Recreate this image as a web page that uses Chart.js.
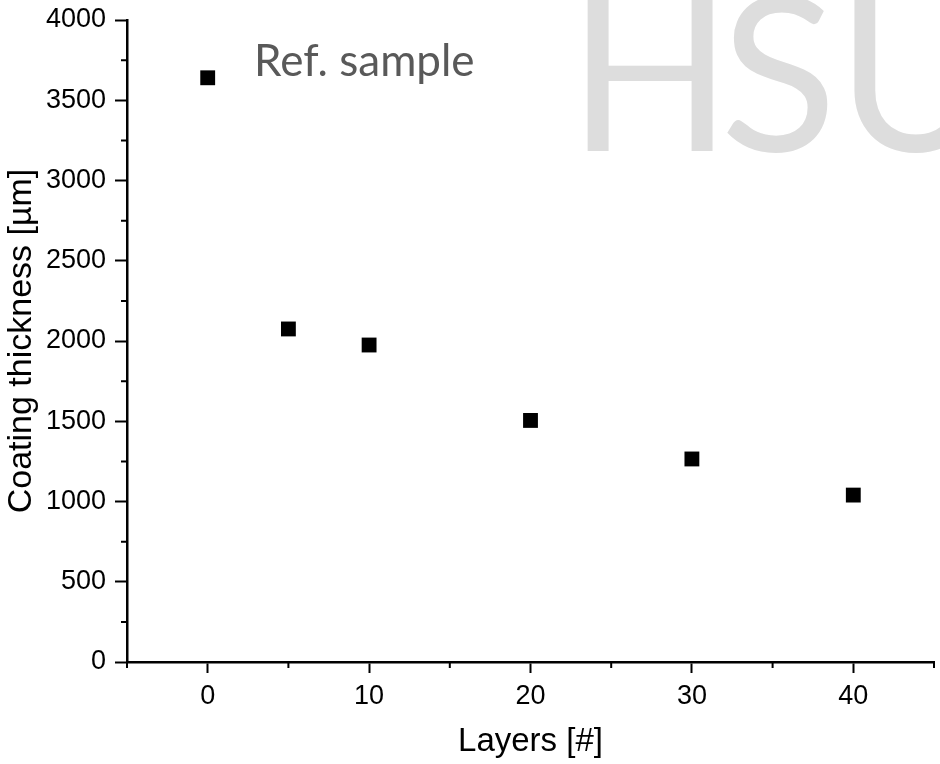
<!DOCTYPE html>
<html>
<head>
<meta charset="utf-8">
<title>Coating thickness vs layers</title>
<script src="https://cdn.jsdelivr.net/npm/chart.js@4.4.1/dist/chart.umd.min.js"></script>
<style>
    html, body { margin: 0; padding: 0; background: #fff; }
    #wrap { position: relative; width: 940px; height: 764px; }
</style>
</head>
<body>
<div id="wrap"><canvas id="thicknessChart" width="940" height="764"></canvas></div>
<script>
// Data
const layers = [0, 5, 10, 20, 30, 40];
const thickness = [3640, 2075, 1975, 1505, 1265, 1040];

// Axis ticks
const xMajorTicks = [0, 10, 20, 30, 40];
const xMinorTicks = [-5, 5, 15, 25, 35, 45];
const yMajorTicks = [0, 500, 1000, 1500, 2000, 2500, 3000, 3500, 4000];
const yMinorTicks = [250, 750, 1250, 1750, 2250, 2750, 3250, 3750];

// Texts
const xTitle = 'Layers [#]';
const yTitle = 'Coating thickness [µm]';
const noteText = 'Ref. sample';
const watermarkText = 'HSU';

const axisFont = '"Liberation Sans", Arial, sans-serif';

// Short outward ticks between the labelled ones
const minorTicks = {
    id: 'minorTicks',
    afterDraw(chart) {
        const { ctx, scales: { x, y } } = chart;
        ctx.save();
        ctx.strokeStyle = '#000';
        ctx.lineWidth = 2;
        ctx.beginPath();
        xMinorTicks.forEach(v => {
            const px = x.getPixelForValue(v);
            ctx.moveTo(px, y.bottom);
            ctx.lineTo(px, y.bottom + 6);
        });
        yMinorTicks.forEach(v => {
            const py = y.getPixelForValue(v);
            ctx.moveTo(x.left, py);
            ctx.lineTo(x.left - 6, py);
        });
        ctx.stroke();
        ctx.restore();
    }
};

// Watermark behind, note text on top
const annotations = {
    id: 'annotations',
    beforeDraw(chart) {
        const ctx = chart.ctx;
        ctx.save();
        ctx.fillStyle = '#dddddd';
        ctx.font = '215px Lato, "Open Sans", sans-serif';
        ctx.textBaseline = 'alphabetic';
        ctx.textAlign = 'left';
        const m = ctx.measureText('H');
        const x0 = 587 + m.actualBoundingBoxLeft;
        // letters drawn one by one, a bit tighter than the font's own spacing
        ctx.fillText(watermarkText[0], x0, 151);
        ctx.fillText(watermarkText[1], x0 + ctx.measureText('H').width - 12, 151);
        ctx.fillText(watermarkText[2], x0 + ctx.measureText('HS').width - 12, 151);
        ctx.restore();
    },
    afterDraw(chart) {
        const ctx = chart.ctx;
        ctx.save();
        ctx.fillStyle = '#595959';
        ctx.font = '44px Lato, "Open Sans", sans-serif';
        ctx.textBaseline = 'alphabetic';
        ctx.textAlign = 'left';
        const m = ctx.measureText('R');
        ctx.fillText(noteText, 258 + m.actualBoundingBoxLeft, 76);
        ctx.restore();
    }
};

const ctx = document.getElementById('thicknessChart');
new Chart(ctx, {
    type: 'scatter',
    data: {
        datasets: [{
            label: noteText,
            data: layers.map((l, i) => ({ x: l, y: thickness[i] })),
            pointStyle: 'rect',
            pointRadius: 10.5,
            pointHoverRadius: 10.5,
            backgroundColor: '#000',
            borderColor: '#000',
            borderWidth: 0
        }]
    },
    options: {
        responsive: false,
        animation: false,
        layout: { autoPadding: false, padding: { top: 20, right: 6, left: 0, bottom: 0 } },
        plugins: {
            legend: { display: false },
            tooltip: { enabled: false }
        },
        scales: {
            x: {
                type: 'linear',
                min: -5,
                max: 45,
                afterBuildTicks: scale => { scale.ticks = xMajorTicks.map(v => ({ value: v })); },
                afterFit: scale => {
                    scale.height = 102;
                    scale.paddingLeft = 0;
                    scale.paddingRight = 0;
                },
                border: { display: true, color: '#000', width: 2.5 },
                grid: {
                    drawOnChartArea: false,
                    drawTicks: true,
                    tickLength: 11,
                    tickColor: '#000',
                    tickWidth: 2
                },
                ticks: {
                    color: '#000',
                    padding: 7,
                    maxRotation: 0,
                    callback: v => String(v),
                    font: { family: axisFont, size: 27 }
                },
                title: {
                    display: true,
                    text: xTitle,
                    color: '#000',
                    padding: { top: 0, bottom: 2 },
                    font: { family: axisFont, size: 33 }
                }
            },
            y: {
                type: 'linear',
                min: 0,
                max: 4000,
                afterBuildTicks: scale => { scale.ticks = yMajorTicks.map(v => ({ value: v })); },
                afterFit: scale => {
                    scale.width = 127;
                    scale.paddingTop = 0;
                    scale.paddingBottom = 0;
                },
                border: { display: true, color: '#000', width: 2.5 },
                grid: {
                    drawOnChartArea: false,
                    drawTicks: true,
                    tickLength: 12,
                    tickColor: '#000',
                    tickWidth: 2
                },
                ticks: {
                    color: '#000',
                    padding: 9,
                    callback: v => String(v),
                    font: { family: axisFont, size: 27 }
                },
                title: {
                    display: true,
                    text: yTitle,
                    color: '#000',
                    padding: { top: 1, bottom: 0 },
                    font: { family: axisFont, size: 34 }
                }
            }
        }
    },
    plugins: [annotations, minorTicks]
});
</script>
</body>
</html>
